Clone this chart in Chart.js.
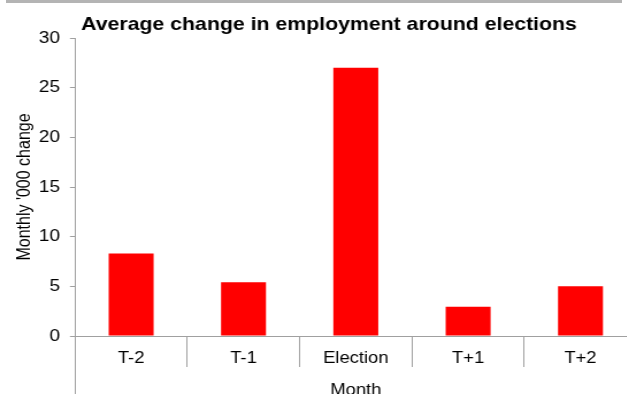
<!DOCTYPE html>
<html><head><meta charset="utf-8">
<script src="https://cdn.jsdelivr.net/npm/chart.js@4/dist/chart.umd.min.js"></script>
<style>
html,body{margin:0;padding:0;width:627px;height:394px;overflow:hidden;background:#fff;}
#wrap{position:absolute;left:0;top:0;width:572px;height:400px;transform:scaleX(1.15);transform-origin:0 0;}
#topbar{position:absolute;left:6px;top:0;width:616px;height:3px;background:#b4b4b4;z-index:2}
</style></head><body>
<div id="topbar"></div>
<div id="wrap"><canvas id="c" width="572" height="400" style="width:572px;height:400px"></canvas></div>
<script>
const categories = ['T-2', 'T-1', 'Election', 'T+1', 'T+2'];
const monthlyChange = [8.3, 5.4, 27.0, 2.95, 5.0];
const yMin = 0, yMax = 30, yStep = 5;

const FONT = "'Liberation Sans', Arial, sans-serif";
const AXIS = '#a0a0a0';

const extendAxis = {
  id: 'extendAxis',
  afterDraw(chart) {
    const ctx = chart.ctx, x = Math.round(chart.scales.y.right) + 0.5;
    ctx.save();
    ctx.strokeStyle = AXIS; ctx.lineWidth = 1;
    ctx.beginPath(); ctx.moveTo(x, chart.chartArea.bottom); ctx.lineTo(x, chart.height); ctx.stroke();
    ctx.restore();
  }
};

new Chart(document.getElementById('c'), {
  type: 'bar',
  data: { labels: categories, datasets: [{ data: monthlyChange, backgroundColor: '#ff0000', borderWidth: 0, categoryPercentage: 1, barPercentage: 0.4 }] },
  options: {
    responsive: false, animation: false,
    layout: { padding: { left: 18.6, right: 18.4, top: 0, bottom: 0 } },
    plugins: {
      legend: { display: false }, tooltip: { enabled: false },
      title: { display: true, text: 'Average change in employment around elections', color: '#000',
        font: { family: FONT, size: 18.5, weight: 'bold' }, padding: { top: 13.4, bottom: 2.4 } }
    },
    scales: {
      y: {
        min: yMin, max: yMax,
        ticks: { stepSize: yStep, color: '#000', font: { family: FONT, size: 16.5 }, padding: 8.6 },
        grid: { drawOnChartArea: false, tickLength: 4.4, color: AXIS },
        border: { color: AXIS },
        title: { display: true, text: "Monthly '000 change", color: '#000', font: { family: FONT, size: 16 }, padding: { top: -6.8, bottom: 0 } },
        afterFit(s) { s.width = 46.6; }
      },
      x: {
        offset: true,
        ticks: { color: '#000', font: { family: FONT, size: 16 }, padding: -18, maxRotation: 0 },
        grid: { drawOnChartArea: false, tickLength: 31, color: AXIS, offset: true },
        border: { color: AXIS },
        title: { display: true, text: 'Month', color: '#000', font: { family: FONT, size: 16 }, padding: { top: 0, bottom: 0 } },
        afterFit(s) { s.height = 64; }
      }
    }
  },
  plugins: [extendAxis]
});
</script>
</body></html>
